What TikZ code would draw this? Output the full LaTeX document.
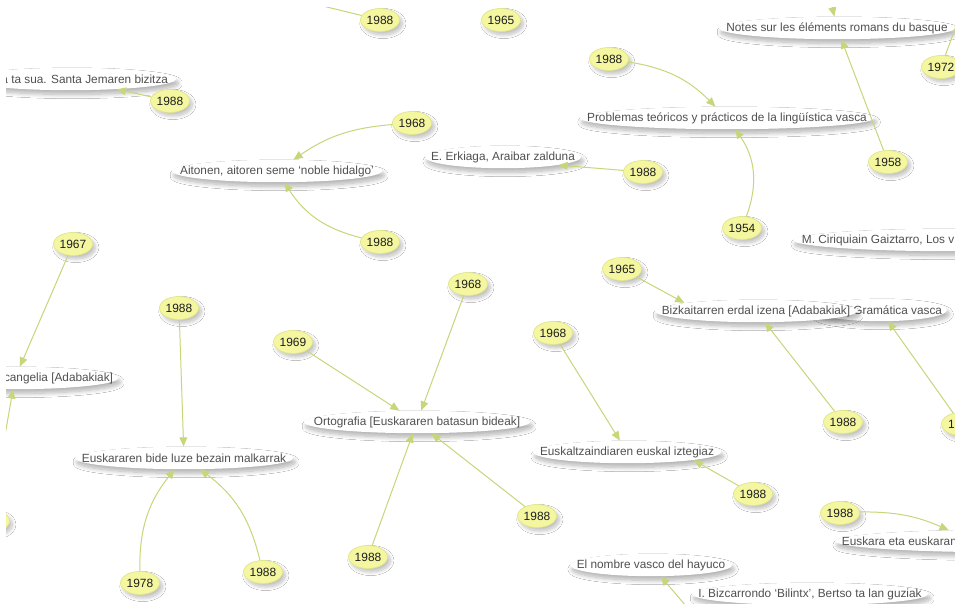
\documentclass[tikz,border=0pt]{standalone}
\usepackage{fontspec}
\setmainfont{Liberation Sans}
\usetikzlibrary{shapes.geometric, arrows.meta, shadows.blur}

\definecolor{yrfill}{RGB}{244,246,160}
\definecolor{yredge}{RGB}{226,230,140}
\definecolor{edgecol}{RGB}{198,214,120}
\definecolor{ttltext}{RGB}{80,80,80}
\definecolor{yrtext}{RGB}{30,30,30}

\newsavebox\lblbox
\def\lblplace{\hbox to 0pt{\hss\usebox\lblbox\hss}}

\begin{document}
\begin{tikzpicture}[x=0.025cm, y=-0.025cm]
		\tikzset{lbl/.style={ellipse, inner sep=0pt,
				execute at begin node={\setbox\lblbox=\hbox\bgroup},
				execute at end node={\egroup\lblplace}},
			txtleft/.code={\def\lblplace{\hbox to 0pt{\hskip#1\usebox\lblbox\hss}}},
			txtright/.code={\def\lblplace{\hbox to 0pt{\hss\usebox\lblbox\hskip-#1}}},
			ttl/.style={lbl, fill=white, minimum height=0.56cm, text=ttltext,
				font=\fontsize{8.4}{10}\selectfont,
				blur shadow={shadow xshift=1.5pt, shadow yshift=-3pt, shadow blur radius=3pt,
					shadow blur steps=10, shadow opacity=30}},
			yr/.style={lbl, fill=yrfill, draw=yredge, line width=0.5pt,
				minimum width=0.975cm, minimum height=0.575cm, text=yrtext,
				font=\fontsize{8.5}{10}\selectfont,
				blur shadow={shadow xshift=2pt, shadow yshift=-2.5pt, shadow blur radius=2.5pt,
					shadow blur steps=10, shadow opacity=25}},
			ed/.style={draw=edgecol, line width=0.7pt, -{Triangle[length=6.5pt, width=5.5pt]}}};

		\useasboundingbox[fill=white] (0,0) rectangle (955,604);
		\clip (6,8) rectangle (955,604);

		% titles
		\node[ttl, minimum width=5.3cm, txtright=2.45cm] (sua) at (70, 79) {a ta sua. Santa Jemaren bizitza};
		\node[ttl, minimum width=5.25cm] (aitonen) at (277, 171) {Aitonen, aitoren seme `noble hidalgo'};
		\node[ttl, minimum width=3.9cm] (erkiaga) at (503, 157) {E. Erkiaga, Araibar zalduna};
		\node[ttl, minimum width=7.35cm] (problemas) at (727, 118) {Problemas teóricos y prácticos de la lingüística vasca};
		\node[ttl, minimum width=5.9cm] (notes) at (837, 28) {Notes sur les éléments romans du basque};
		\node[ttl, minimum width=7.85cm, txtleft=-3.7cm] (ciriquiain) at (950, 240) {M. Ciriquiain Gaiztarro, Los v};
		\node[ttl, minimum width=3.35cm, txtright=1.55cm] (gramatica) at (880, 310) {Gramática vasca};
		\node[ttl, minimum width=5.05cm] (bizkaitar) at (756, 311) {Bizkaitarren erdal izena [Adabakiak]};
		\node[ttl, minimum width=5.15cm, txtright=2.45cm] (cangelia) at (15, 378) {cangelia [Adabakiak]};
		\node[ttl, minimum width=5.65cm] (ortografia) at (417, 422) {Ortografia [Euskararen batasun bideak]};
		\node[ttl, minimum width=5.45cm] (bidea) at (184, 458) {Euskararen bide luze bezain malkarrak};
		\node[ttl, minimum width=4.7cm] (iztegia) at (627, 452) {Euskaltzaindiaren euskal iztegiaz};
		\node[ttl, minimum width=8.25cm, txtleft=-3.95cm] (euskara) at (1000, 541) {Euskara eta euskaran};
		\node[ttl, minimum width=4.05cm] (hayuco) at (651, 565) {El nombre vasco del hayuco};
		\node[ttl, minimum width=5.9cm] (bilintx) at (810, 594) {I. Bizcarrondo `Bilintx', Bertso ta lan guziak};

		% years
		\node[yr] (y1) at (380, 20) {1988};
		\node[yr] (y2) at (501, 20) {1965};
		\node[yr] (y3) at (609, 59) {1988};
		\node[yr] (y4) at (941, 67) {1972};
		\node[yr] (y5) at (170, 101) {1988};
		\node[yr] (y6) at (412, 123) {1968};
		\node[yr] (y7) at (888, 162) {1958};
		\node[yr] (y8) at (643, 172) {1988};
		\node[yr] (y9) at (742, 228) {1954};
		\node[yr] (y10) at (380, 242) {1988};
		\node[yr] (y11) at (73, 244) {1967};
		\node[yr] (y12) at (622, 269) {1965};
		\node[yr] (y13) at (468, 284) {1968};
		\node[yr] (y14) at (179, 308) {1988};
		\node[yr] (y15) at (553, 333) {1968};
		\node[yr] (y16) at (293, 342) {1969};
		\node[yr] (y17) at (843, 422) {1988};
		\node[yr, txtleft=-0.325cm] (y18) at (961, 424) {1};
		\node[yr] (y19) at (753, 494) {1988};
		\node[yr] (y20) at (840, 513) {1988};
		\node[yr] (y21) at (537, 516) {1988};
		\node[yr] (y22) at (-10, 521) {};
		\node[yr] (y23) at (368, 557) {1988};
		\node[yr] (y24) at (263, 572) {1988};
		\node[yr] (y25) at (140, 583) {1978};

		\coordinate (outa) at (290, -2);
		\coordinate (outb) at (826, -20);
		\coordinate (outc) at (962, 10);
		\coordinate (outd) at (715, 640);

		\draw[ed] (y1) to (outa);
		\draw[ed] (outb) to (notes);
		\draw[ed] (y4) to (outc);
		\draw[ed] (outd) to (hayuco);

		\draw[ed] (y5) to (sua);
		\draw[ed] (y6) to[bend right=15] (aitonen);
		\draw[ed] (y10) to[bend left=22] (aitonen);
		\draw[ed] (y8) to (erkiaga.south east);
		\draw[ed] (y3) to[bend left=18] (problemas);
		\draw[ed] (y9) to[bend right=28] (problemas);
		\draw[ed] (y7) to (notes);

		\draw[ed] (y11) to (cangelia);
		\draw[ed] (y22) to (cangelia);
		\draw[ed] (y14) to (bidea);
		\draw[ed] (y25) to[bend left=20] (bidea);
		\draw[ed] (y24) to[bend right=20] (bidea);

		\draw[ed] (y16) to (ortografia);
		\draw[ed] (y13) to (ortografia);
		\draw[ed] (y21) to (ortografia);
		\draw[ed] (y23) to (ortografia);

		\draw[ed] (y15) to (iztegia);
		\draw[ed] (y19) to (iztegia.south east);

		\draw[ed] (y12) to (bizkaitar.north west);
		\draw[ed] (y17) to (bizkaitar);
		\draw[ed] (y18) to (gramatica);

		\draw[ed] (y20) to[bend left=12] (euskara.168);

	\end{tikzpicture}
\end{document}
